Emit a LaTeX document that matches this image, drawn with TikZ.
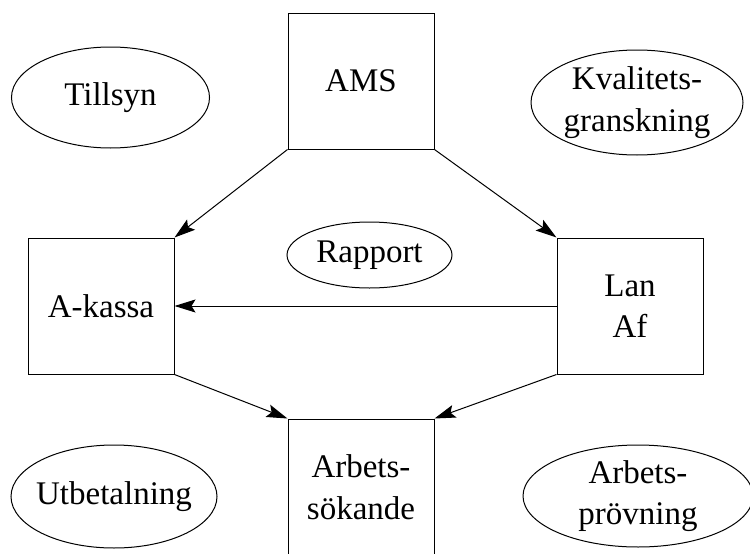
\documentclass[tikz,border=0pt]{standalone}
\usepackage{fontspec}
\setmainfont{Liberation Serif}
\newfontfamily\diagfont{Liberation Serif}
\usetikzlibrary{shapes.geometric,arrows.meta}

\begin{document}
\begin{tikzpicture}[x=1pt, y=-1pt, line width=1pt, font=\diagfont\fontsize{33}{41.5}\selectfont,
  unit/.style={draw, rectangle, minimum width=146pt, minimum height=136pt, inner sep=0pt, align=center},
  task/.style={draw, ellipse, inner sep=0pt, align=center},
  flow/.style={-{Stealth[length=21pt,width=13pt,inset=4pt]}}]
\clip (0,0) rectangle (750,554);
\node[unit] (ams) at (361,81) {AMS};
\node[unit] (akassa) at (101,306) {A-kassa};
\node[unit] (lanaf) at (630,306) {Lan\\Af};
\node[unit] (sokande) at (361,487) {Arbets-\\sökande};
\node[task, minimum width=198pt, minimum height=101pt] (tillsyn) at (110.5,97.5) {Tillsyn};
\node[task, minimum width=212pt, minimum height=105pt] (kvalitet) at (637,102.5) {Kvalitets-\\granskning};
\node[task, minimum width=165pt, minimum height=66pt] (rapport) at (369.5,255) {Rapport};
\node[task, minimum width=206pt, minimum height=103pt, inner xsep=-12pt] (utbetalning) at (114,496.5) {Utbetalning};
\node[task, minimum width=230pt, minimum height=102pt] (provning) at (638,496) {Arbets-\\prövning};
\draw[flow] (ams.south west) -- (akassa.north east);
\draw[flow] (ams.south east) -- (lanaf.north west);
\draw[flow] (lanaf.west) -- (akassa.east);
\draw[flow] (akassa.south east) -- (sokande.north west);
\draw[flow] (lanaf.south west) -- (sokande.north east);
\end{tikzpicture}
\end{document}
